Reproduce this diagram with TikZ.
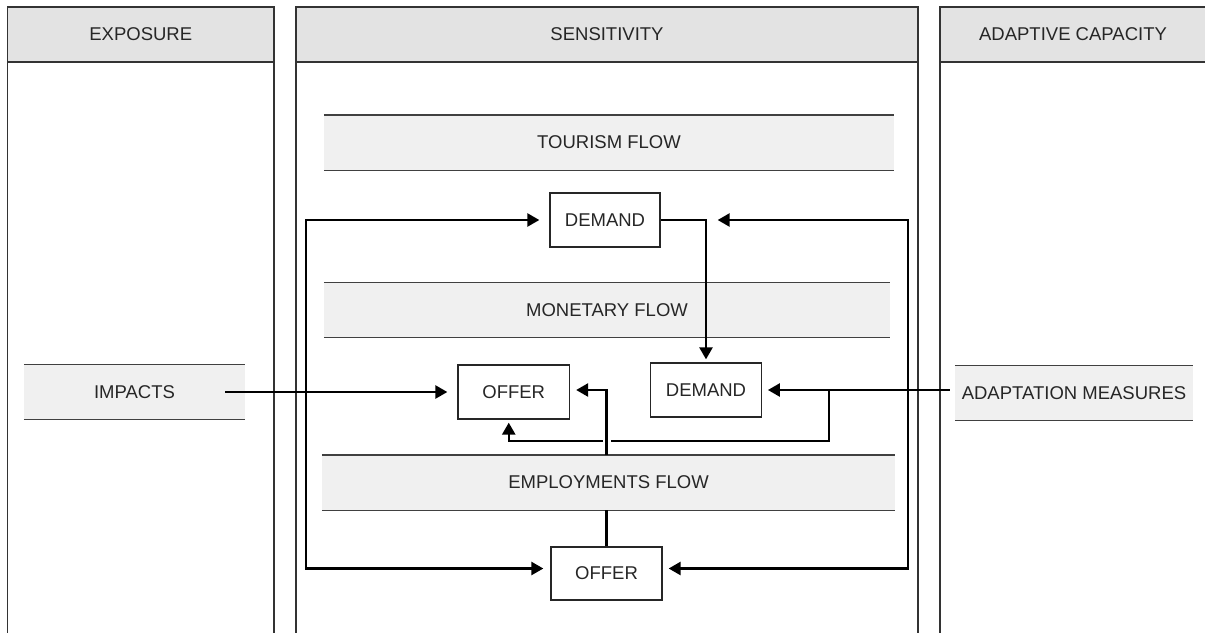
\documentclass[tikz,border=0pt]{standalone}
\usepackage{fontspec}
\setmainfont{Liberation Sans}
\usetikzlibrary{arrows.meta}
\begin{document}
\begin{tikzpicture}[x=1pt,y=-1pt,
  every node/.style={font=\fontsize{18.5}{22}\selectfont, text=black!85, inner sep=0pt},
  col/.style={draw=black!80, line width=1.5pt},
  head/.style={fill=black!11, minimum height=55pt},
  bar/.style={fill=black!6, minimum height=55pt},
  barline/.style={draw=black!75, line width=1.4pt},
  box/.style={draw=black!85, line width=1.3pt, fill=white, minimum width=110pt, minimum height=54pt},
  conn/.style={draw=black, line width=2.5pt},
  arr/.style={conn, -{Triangle[length=12pt,width=13pt]}},
  biarr/.style={conn, {Triangle[length=12pt,width=13pt]}-{Triangle[length=12pt,width=13pt]}}
]
\useasboundingbox (0,0) rectangle (1205,632);
\fill[white] (0,0) rectangle (1205,632);

% columns
\node[head, minimum width=266.5pt] (expH) at (140.75,34.5) {EXPOSURE};
\node[head, minimum width=622pt] (senH) at (607,34.5) {SENSITIVITY};
\node[head, minimum width=266pt] (adaH) at (1073,34.5) {ADAPTIVE CAPACITY};
\foreach \h in {expH,senH,adaH}{
  \draw[col] (\h.north west) rectangle (\h.south east);
  \draw[col] (\h.south west) -- ++(0,620);
  \draw[col] (\h.south east) -- ++(0,620);
}

% flow bars
\node[bar, minimum width=570pt] (tour) at (609,142.5) {TOURISM FLOW};
\node[bar, minimum width=566pt] (mon) at (607,310) {MONETARY FLOW};
\node[bar, minimum width=573pt] (emp) at (608.5,482.5) {EMPLOYMENTS FLOW};
\node[bar, minimum width=221pt] (imp) at (134.5,392) {IMPACTS};
\node[bar, minimum width=238pt] (adm) at (1074,393) {ADAPTATION MEASURES};
\foreach \b in {tour,mon,emp,imp,adm}{
  \draw[barline] (\b.north west) -- (\b.north east) (\b.south west) -- (\b.south east);
}

% boxes
\node[box] (demT) at (605,220) {DEMAND};
\node[box, minimum width=111.5pt] (offT) at (513.75,392) {OFFER};
\node[box, minimum width=110.5pt] (dem2) at (706,390) {DEMAND};
\node[box, minimum width=111pt, minimum height=53pt] (offB) at (606.5,573.5) {OFFER};

% helper coordinates
\coordinate (L) at (306,0);
\coordinate (R) at (908,0);
\coordinate (Bx) at (829,0);
\coordinate (Bh) at (0,441);

% connectors
\draw[arr, shorten >=3pt] (demT.east) -| (dem2.north);
\draw[biarr] ([xshift=-10pt]demT.west) -- (demT.west -| L) |- ([xshift=-7pt,yshift=5pt]offB.west);
\draw[biarr] ([xshift=57pt]demT.east) -- (demT.east -| R) |- ([xshift=6pt,yshift=5pt]offB.east);
\draw[arr] ([xshift=-20pt]imp.east) -- ([xshift=-10pt]offT.west);
\draw[arr] ([xshift=-5pt]adm.west |- dem2.east) -- ([xshift=6pt]dem2.east);
\draw[arr] (dem2.east -| Bx) |- ([xshift=-5pt]offT.south |- Bh) -- ([xshift=-5pt,yshift=-3pt]offT.south);
\draw[white, line width=8pt] ([yshift=4pt]offB.north |- Bh) -- ([yshift=-4pt]offB.north |- Bh);
\draw[conn] (offB.north) -- (offB.north |- emp.south);
\draw[arr] (offB.north |- emp.north) |- ([xshift=6pt,yshift=2pt]offT.east);
\end{tikzpicture}
\end{document}
